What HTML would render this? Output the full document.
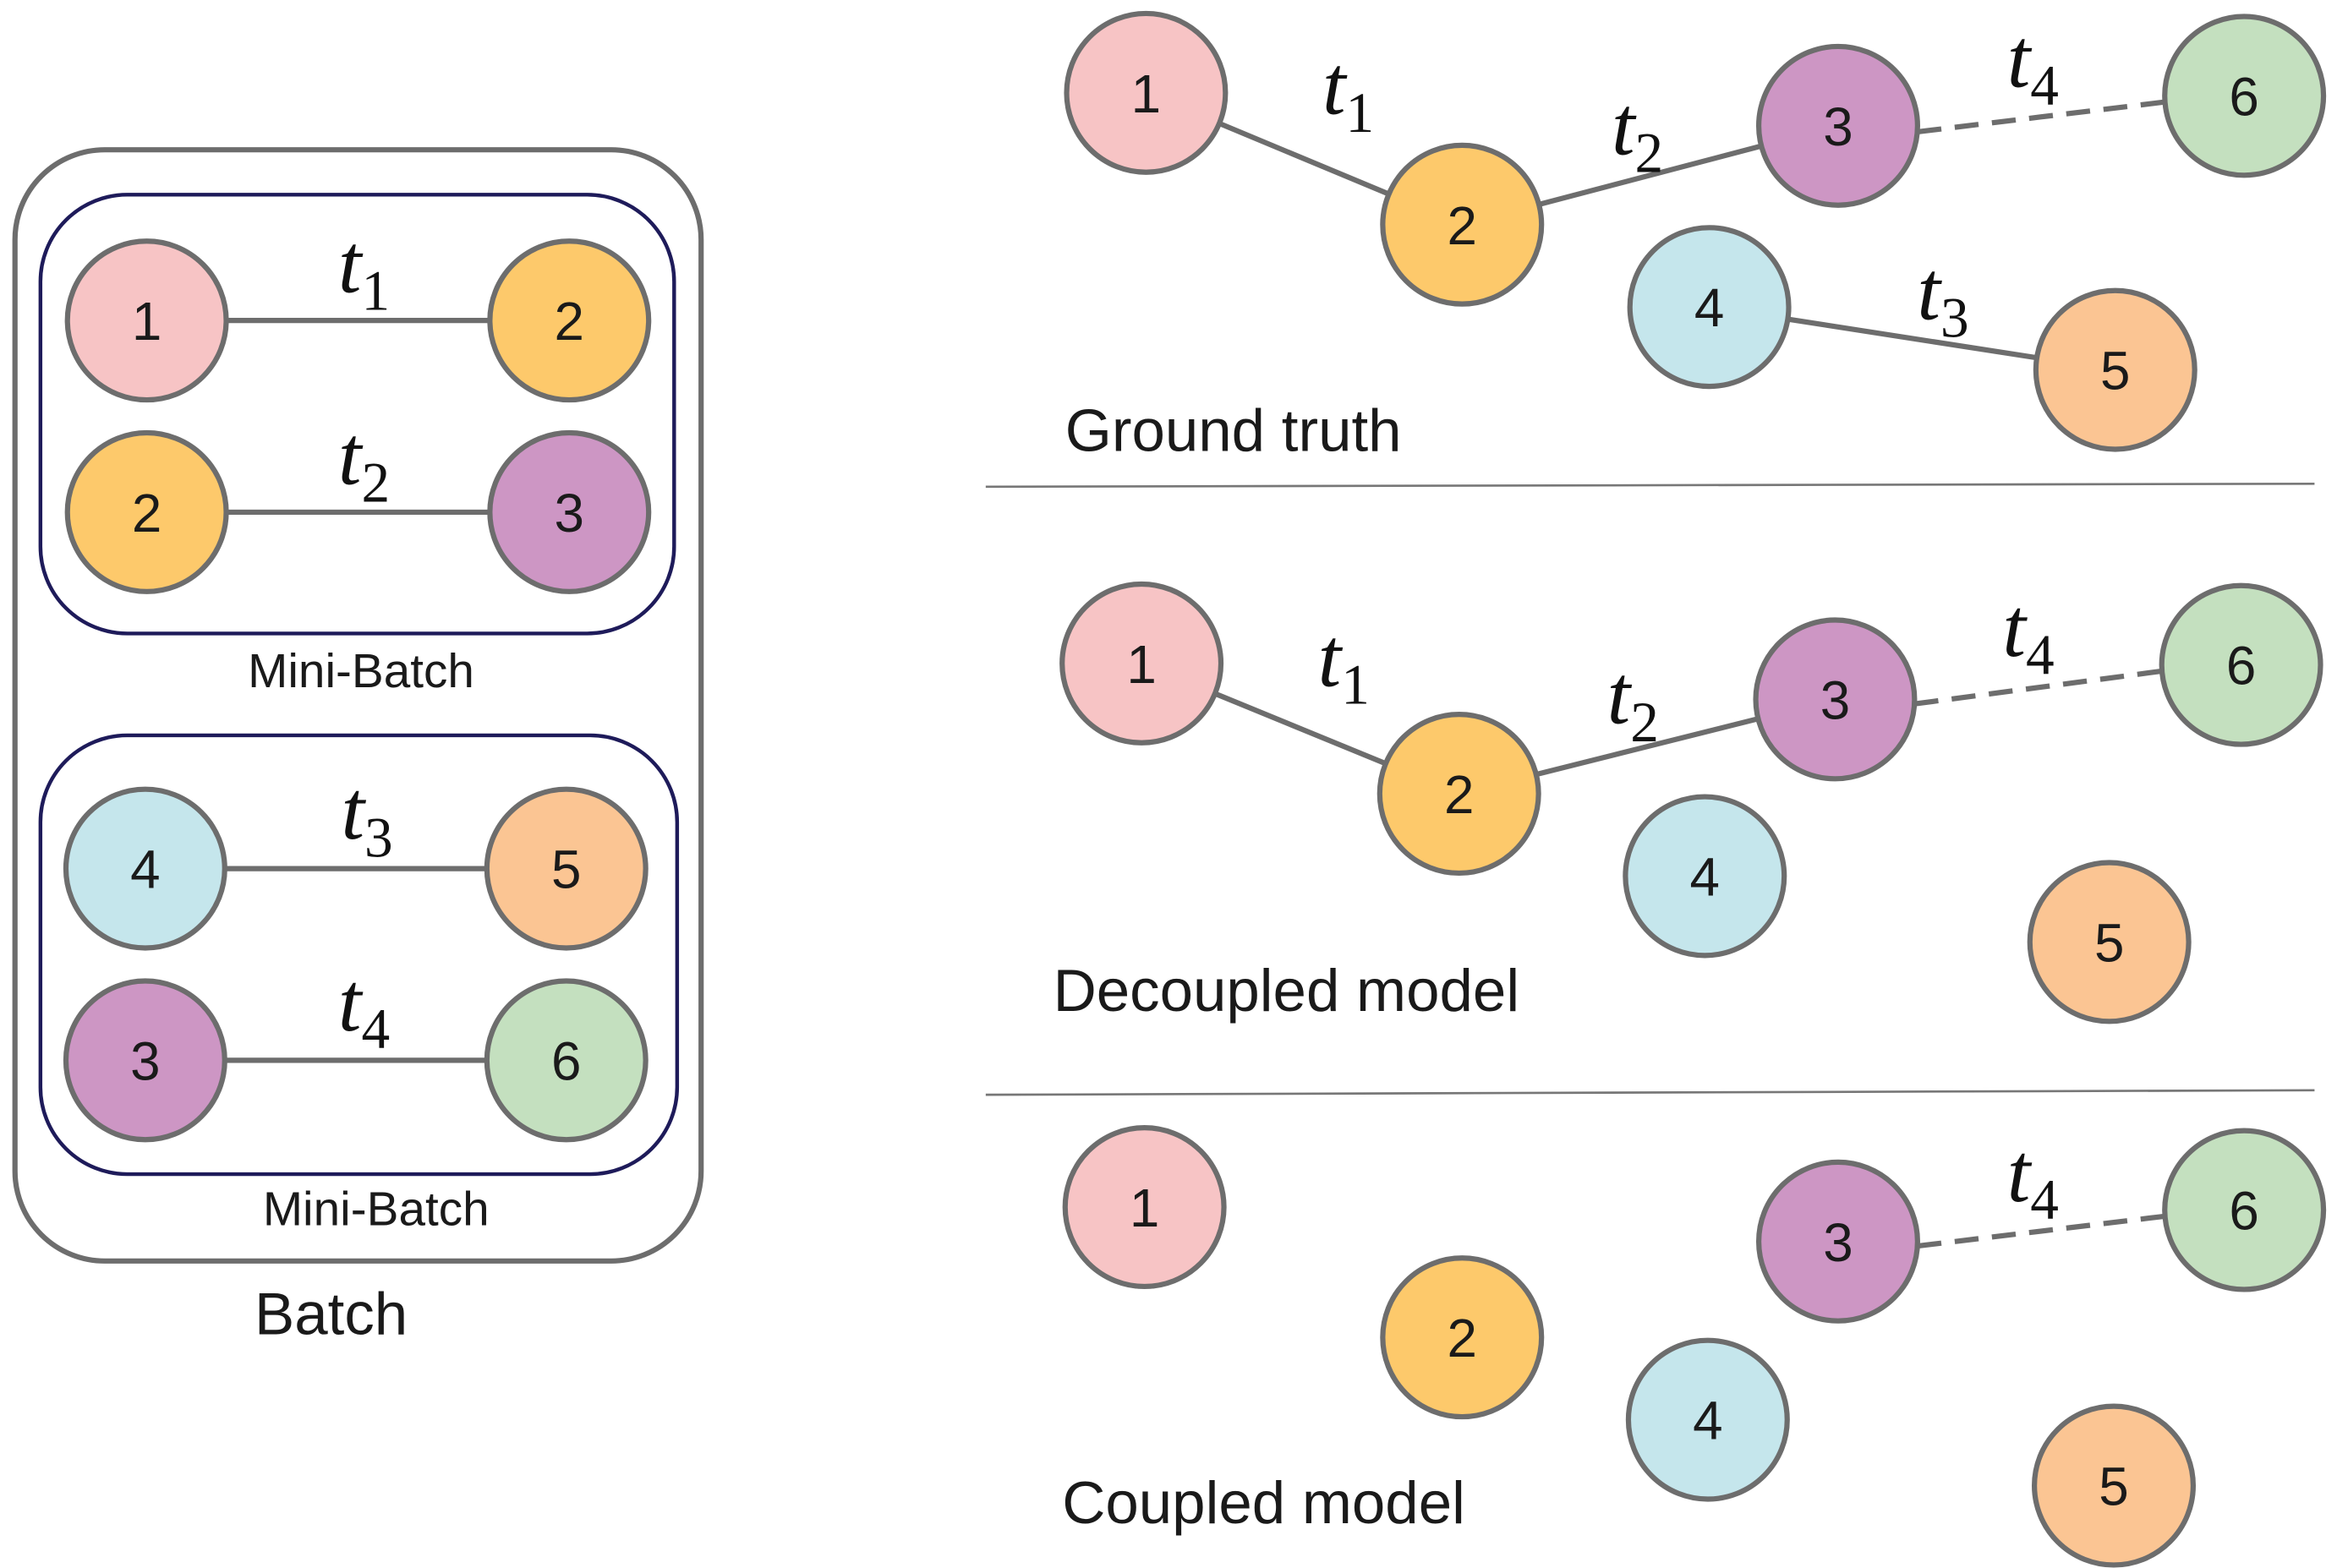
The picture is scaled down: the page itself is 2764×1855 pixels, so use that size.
<!DOCTYPE html>
<html><head><meta charset="utf-8"><style>
html,body{margin:0;padding:0;background:#fff}
svg{display:block}
.n{stroke:#6d6d6d;stroke-width:3.5}
.e{stroke:#6d6d6d;stroke-width:3.5}
.d{stroke:#6d6d6d;stroke-width:3.5;stroke-dasharray:16 9}
.num{font-family:"Liberation Sans","DejaVu Sans",sans-serif;font-size:36px;fill:#1a1a1a;text-anchor:middle}
.t{font-family:"Liberation Serif","DejaVu Serif",serif;font-style:italic;font-size:56px;fill:#111;text-anchor:middle}
.s{font-style:normal;font-size:38px}
.lab{font-family:"Liberation Sans","DejaVu Sans",sans-serif;fill:#1a1a1a}
</style></head><body>
<svg width="2764" height="1855" viewBox="0 0 1560 1047" preserveAspectRatio="none" xmlns="http://www.w3.org/2000/svg">
<!-- left -->
<rect x="10" y="100" width="458" height="742" rx="60" fill="none" stroke="#6d6d6d" stroke-width="3.5"/>
<rect x="27" y="130" width="423" height="293" rx="58" fill="none" stroke="#1e1b5a" stroke-width="2.5"/>
<rect x="27" y="491" width="425" height="293" rx="58" fill="none" stroke="#1e1b5a" stroke-width="2.5"/>
<line class="e" x1="98" y1="214" x2="380" y2="214"/>
<line class="e" x1="98" y1="342" x2="380" y2="342"/>
<line class="e" x1="97" y1="580" x2="378" y2="580"/>
<line class="e" x1="97" y1="708" x2="378" y2="708"/>
<circle class="n" cx="98" cy="214" r="53" fill="#f7c4c5"/><text class="num" x="98" y="227">1</text>
<circle class="n" cx="380" cy="214" r="53" fill="#fdc96b"/><text class="num" x="380" y="227">2</text>
<circle class="n" cx="98" cy="342" r="53" fill="#fdc96b"/><text class="num" x="98" y="355">2</text>
<circle class="n" cx="380" cy="342" r="53" fill="#cd96c4"/><text class="num" x="380" y="355">3</text>
<circle class="n" cx="97" cy="580" r="53" fill="#c5e6ec"/><text class="num" x="97" y="593">4</text>
<circle class="n" cx="378" cy="580" r="53" fill="#fbc593"/><text class="num" x="378" y="593">5</text>
<circle class="n" cx="97" cy="708" r="53" fill="#cd96c4"/><text class="num" x="97" y="721">3</text>
<circle class="n" cx="378" cy="708" r="53" fill="#c4e0bf"/><text class="num" x="378" y="721">6</text>
<text class="t" x="243" y="195">t<tspan class="s" dy="12">1</tspan></text>
<text class="t" x="243" y="323">t<tspan class="s" dy="12">2</tspan></text>
<text class="t" x="245" y="560">t<tspan class="s" dy="12">3</tspan></text>
<text class="t" x="243" y="688">t<tspan class="s" dy="12">4</tspan></text>
<text class="lab" x="241" y="459" font-size="32" text-anchor="middle">Mini-Batch</text>
<text class="lab" x="251" y="818" font-size="32" text-anchor="middle">Mini-Batch</text>
<text class="lab" x="221" y="891" font-size="40" text-anchor="middle">Batch</text>
<!-- dividers -->
<line x1="658" y1="325" x2="1545" y2="323" stroke="#777" stroke-width="1.5"/>
<line x1="658" y1="731" x2="1545" y2="728" stroke="#777" stroke-width="1.5"/>
<!-- ground truth -->
<line class="e" x1="765" y1="62" x2="976" y2="150"/>
<line class="e" x1="976" y1="150" x2="1227" y2="84"/>
<line class="d" x1="1280" y1="88" x2="1446" y2="68"/>
<line class="e" x1="1141" y1="205" x2="1412" y2="247"/>
<circle class="n" cx="765" cy="62" r="53" fill="#f7c4c5"/><text class="num" x="765" y="75">1</text>
<circle class="n" cx="976" cy="150" r="53" fill="#fdc96b"/><text class="num" x="976" y="163">2</text>
<circle class="n" cx="1227" cy="84" r="53" fill="#cd96c4"/><text class="num" x="1227" y="97">3</text>
<circle class="n" cx="1498" cy="64" r="53" fill="#c4e0bf"/><text class="num" x="1498" y="77">6</text>
<circle class="n" cx="1141" cy="205" r="53" fill="#c5e6ec"/><text class="num" x="1141" y="218">4</text>
<circle class="n" cx="1412" cy="247" r="53" fill="#fbc593"/><text class="num" x="1412" y="260">5</text>
<text class="t" x="900" y="76">t<tspan class="s" dy="12">1</tspan></text>
<text class="t" x="1093" y="103">t<tspan class="s" dy="12">2</tspan></text>
<text class="t" x="1357" y="58">t<tspan class="s" dy="12">4</tspan></text>
<text class="t" x="1297" y="213">t<tspan class="s" dy="12">3</tspan></text>
<text class="lab" x="711" y="301" font-size="40">Ground truth</text>
<!-- decoupled -->
<line class="e" x1="762" y1="443" x2="974" y2="530"/>
<line class="e" x1="974" y1="530" x2="1225" y2="467"/>
<line class="d" x1="1278" y1="470" x2="1444" y2="448"/>
<circle class="n" cx="762" cy="443" r="53" fill="#f7c4c5"/><text class="num" x="762" y="456">1</text>
<circle class="n" cx="974" cy="530" r="53" fill="#fdc96b"/><text class="num" x="974" y="543">2</text>
<circle class="n" cx="1225" cy="467" r="53" fill="#cd96c4"/><text class="num" x="1225" y="480">3</text>
<circle class="n" cx="1496" cy="444" r="53" fill="#c4e0bf"/><text class="num" x="1496" y="457">6</text>
<circle class="n" cx="1138" cy="585" r="53" fill="#c5e6ec"/><text class="num" x="1138" y="598">4</text>
<circle class="n" cx="1408" cy="629" r="53" fill="#fbc593"/><text class="num" x="1408" y="642">5</text>
<text class="t" x="897" y="458">t<tspan class="s" dy="12">1</tspan></text>
<text class="t" x="1090" y="483">t<tspan class="s" dy="12">2</tspan></text>
<text class="t" x="1354" y="438">t<tspan class="s" dy="12">4</tspan></text>
<text class="lab" x="703" y="675" font-size="40">Decoupled model</text>
<!-- coupled -->
<line class="d" x1="1280" y1="832" x2="1446" y2="812"/>
<circle class="n" cx="764" cy="806" r="53" fill="#f7c4c5"/><text class="num" x="764" y="819">1</text>
<circle class="n" cx="976" cy="893" r="53" fill="#fdc96b"/><text class="num" x="976" y="906">2</text>
<circle class="n" cx="1227" cy="829" r="53" fill="#cd96c4"/><text class="num" x="1227" y="842">3</text>
<circle class="n" cx="1498" cy="808" r="53" fill="#c4e0bf"/><text class="num" x="1498" y="821">6</text>
<circle class="n" cx="1140" cy="948" r="53" fill="#c5e6ec"/><text class="num" x="1140" y="961">4</text>
<circle class="n" cx="1411" cy="992" r="53" fill="#fbc593"/><text class="num" x="1411" y="1005">5</text>
<text class="t" x="1357" y="802">t<tspan class="s" dy="12">4</tspan></text>
<text class="lab" x="709" y="1017" font-size="40">Coupled model</text>
</svg>
</body></html>
